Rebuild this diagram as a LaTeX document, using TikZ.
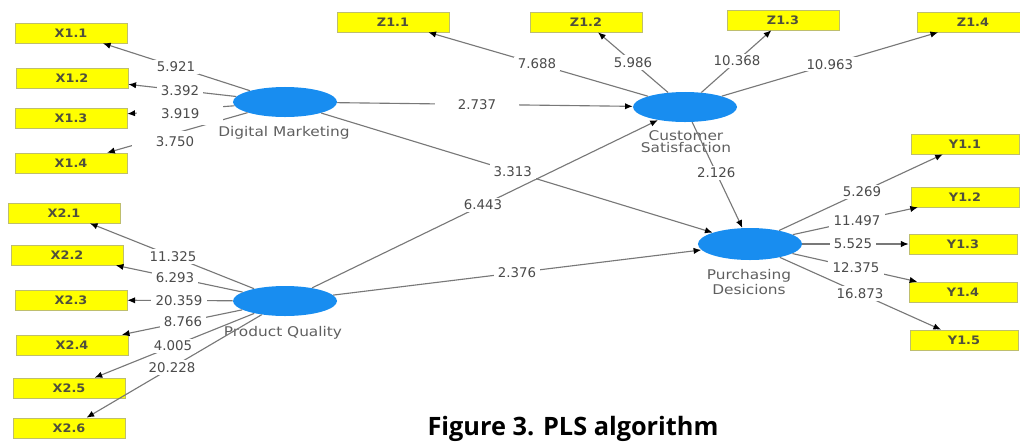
\documentclass[tikz,border=0pt]{standalone}
\usepackage{fontspec}
\setmainfont{DejaVu Sans}
\newfontfamily\namefont{DejaVu Sans}[FakeStretch=1.15]
\newfontfamily\boxfont{DejaVu Sans}[FakeStretch=1.1]
\newfontfamily\capfont{Open Sans}
\usetikzlibrary{shapes.geometric, arrows.meta, calc}

\definecolor{lvblue}{RGB}{24,141,240}
\definecolor{indyellow}{RGB}{255,255,0}
\definecolor{indborder}{RGB}{190,190,110}
\definecolor{indtext}{RGB}{80,80,60}
\definecolor{pathgray}{RGB}{120,120,120}
\definecolor{valtext}{RGB}{75,75,75}
\definecolor{nametext}{RGB}{95,95,95}

\tikzset{
  latent/.style={ellipse, fill=lvblue, draw=none, minimum width=2.6cm,
    minimum height=0.75cm, inner sep=0pt},
  indicator/.style={rectangle, fill=indyellow, draw=indborder, line width=0.4pt,
    minimum width=2.8cm, minimum height=0.5cm, inner sep=0pt, text=indtext,
    font={\boxfont\bfseries\fontsize{8.3pt}{9pt}\selectfont}},
  lvname/.style={text=nametext, align=center, inner sep=0pt,
    font={\namefont\fontsize{9.5pt}{8.5pt}\selectfont}},
  pathline/.style={draw=pathgray, line width=0.8pt,
    -{Latex[length=5.5pt,width=4.5pt,color=black]}},
  val/.style={fill=white, text=valtext, inner xsep=3pt, inner ysep=1.5pt,
    font={\fontsize{9.5pt}{11pt}\selectfont}},
  caption/.style={anchor=base, inner sep=0pt, text=black,
    font={\capfont\bfseries\fontsize{18pt}{20pt}\selectfont}}
}

\begin{document}
\begin{tikzpicture}[x=0.025cm, y=-0.025cm]
\useasboundingbox (0,0) rectangle (1020,442);
\clip (0,0) rectangle (1020,442);

% indicators of Digital Marketing
\node[indicator] (x11) at (71,33)  {X1.1};
\node[indicator] (x12) at (72,78)  {X1.2};
\node[indicator] (x13) at (71,118) {X1.3};
\node[indicator] (x14) at (71,163) {X1.4};
% indicators of Product Quality
\node[indicator] (x21) at (64,213) {X2.1};
\node[indicator] (x22) at (67,255) {X2.2};
\node[indicator] (x23) at (71,300) {X2.3};
\node[indicator] (x24) at (72,345) {X2.4};
\node[indicator] (x25) at (69,388) {X2.5};
\node[indicator] (x26) at (69,428) {X2.6};
% indicators of Customer Satisfaction
\node[indicator] (z11) at (393,22) {Z1.1};
\node[indicator] (z12) at (586,22) {Z1.2};
\node[indicator] (z13) at (783,20) {Z1.3};
\node[indicator] (z14) at (973,22) {Z1.4};
% indicators of Purchasing Decisions
\node[indicator, minimum width=2.7cm] (y11) at (965,144) {Y1.1};
\node[indicator, minimum width=2.7cm] (y12) at (965,197) {Y1.2};
\node[indicator, minimum width=2.7cm] (y13) at (963,244) {Y1.3};
\node[indicator, minimum width=2.7cm] (y14) at (963,292) {Y1.4};
\node[indicator, minimum width=2.7cm] (y15) at (964,340) {Y1.5};

% latent variables
\node[latent] (dm) at (285,102) {};
\node[latent] (pq) at (285,301) {};
\node[latent] (cs) at (685,107) {};
\node[latent, minimum height=0.8cm] (pd) at (750,244) {};

\node[lvname] (dmname) at (284,133) {Digital Marketing};
\node[lvname] (pqname) at (283,333) {Product Quality};
\node[lvname] (csname) at (686,142) {Customer\\Satisfaction};
\node[lvname] (pdname) at (749,282) {Purchasing\\Desicions};

% outer model: Digital Marketing
\draw[pathline] (dm) -- (x11);
\draw[pathline] (dm) -- (x12);
\draw[pathline] (dm) -- (x13);
\draw[pathline] (dm) -- (x14);
% outer model: Product Quality
\draw[pathline] (pq) -- (x21);
\draw[pathline] (pq) -- (x22);
\draw[pathline] (pq) -- (x23);
\draw[pathline] (pq) -- (x24);
\draw[pathline] (pq) -- (x25);
\draw[pathline] (pq) -- (x26);
% outer model: Customer Satisfaction
\draw[pathline] (cs) -- (z11);
\draw[pathline] (cs) -- (z12);
\draw[pathline] (cs) -- (z13);
\draw[pathline] (cs) -- (z14);
% outer model: Purchasing Decisions
\draw[pathline] (pd) -- (y11);
\draw[pathline] (pd) -- (y12);
\draw[pathline] (pd) -- (y13);
\draw[pathline] (pd) -- (y14);
\draw[pathline] (pd) -- (y15);
% inner model
\draw[pathline] (dm) -- (cs);
\draw[pathline] (dm) -- (pd);
\draw[pathline] (pq) -- (cs);
\draw[pathline] (pq) -- (pd);
\draw[pathline] (cs) -- (pd);

% t-values
\node[val] at ($(dm)!0.509!(x11)$) {5.921};
\node[val] at ($(dm)!0.493!(x12)$) {3.392};
\node[val, minimum width=2.15cm, minimum height=0.55cm] at ($(dm)!0.49!(x13) + (0,4)$) {3.919};
\node[val, minimum width=2.15cm, minimum height=0.55cm] at ($(dm)!0.537!(x14) + (5,7)$) {3.750};

\node[val] at ($(pq)!0.507!(x21)$) {11.325};
\node[val] at ($(pq)!0.505!(x22)$) {6.293};
\node[val] at ($(pq)!0.495!(x23)$) {20.359};
\node[val] at ($(pq)!0.479!(x24)$) {8.766};
\node[val] at ($(pq)!0.5185!(x25)$) {4.005};
\node[val] at ($(pq)!0.523!(x26)$) {20.228};

\node[val] at ($(cs)!0.507!(z11)$) {7.688};
\node[val] at ($(cs)!0.525!(z12)$) {5.986};
\node[val] at ($(cs)!0.53!(z13)$)  {10.368};
\node[val] at ($(cs)!0.503!(z14)$) {10.963};

\node[val] at ($(pd)!0.521!(y11)$) {5.269};
\node[val] at ($(pd)!0.498!(y12)$) {11.497};
\node[val] at ($(pd)!0.484!(y13)$) {5.525};
\node[val] at ($(pd)!0.498!(y14)$) {12.375};
\node[val] at ($(pd)!0.514!(y15)$) {16.873};

\node[val, minimum width=2.1cm] at ($(dm)!0.48!(cs)$) {2.737};
\node[val] at ($(dm)!0.49!(pd)$)  {3.313};
\node[val] at ($(pq)!0.495!(cs)$) {6.443};
\node[val] at ($(pq)!0.499!(pd)$) {2.376};
\node[val] at ($(cs)!0.48!(pd)$)  {2.126};

\node[caption] (cap) at (573,435) {Figure 3. PLS algorithm};
\end{tikzpicture}
\end{document}
